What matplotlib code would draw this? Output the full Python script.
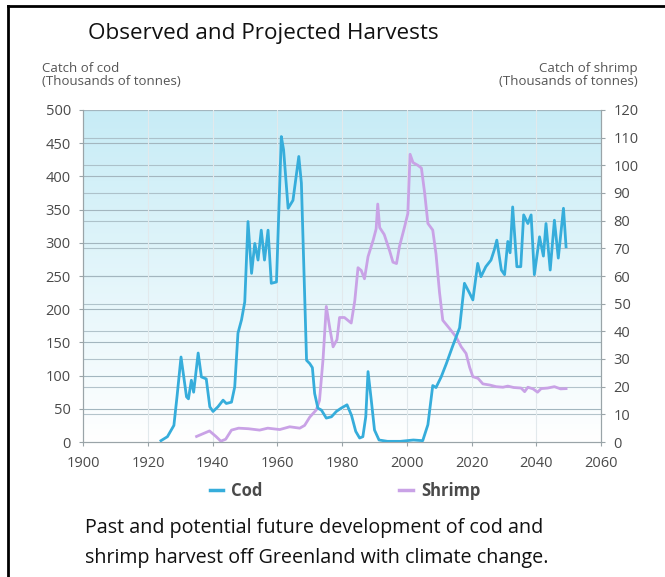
import matplotlib
matplotlib.use("Agg")
import matplotlib.pyplot as plt
import numpy as np
from matplotlib.lines import Line2D

# ---------------- data ----------------
cod_years = [1924, 1926, 1928, 1929, 1930.2, 1931.9, 1932.5, 1933.4, 1934.1, 1935.5, 1936.5,
             1938, 1939.1, 1940.1, 1941.6, 1943.2, 1944.2, 1945.8, 1946.8, 1947.8, 1948.9,
             1949.9, 1950.9, 1952, 1953, 1954, 1955, 1956, 1957.1, 1958.1, 1959.7, 1961.2,
             1961.9, 1963.3, 1964.8, 1966.6, 1967.4, 1969, 1970, 1970.8, 1971.5, 1972.5,
             1973.6, 1975.1, 1976.7, 1978.2, 1979.7, 1981.5, 1982.9, 1984.2, 1985.4, 1986.4,
             1987.3, 1988, 1989, 1990, 1991.4, 1994, 1998, 2002, 2004.9, 2006.5, 2008, 2009,
             2010.6, 2012.2, 2014.2, 2016.3, 2017.8, 2019.4, 2020.4, 2021.9, 2022.9, 2024.4,
             2026, 2027, 2027.8, 2029.2, 2030.2, 2031.2, 2031.9, 2032.7, 2034, 2035.2, 2036.1,
             2037.4, 2038.4, 2039.4, 2041, 2042.2, 2043, 2044.3, 2045.6, 2046.8, 2048.4, 2049.2]
cod_values = [2, 8, 25, 70, 128, 68, 65, 93, 75, 134, 98,
              95, 53, 46, 53, 63, 58, 60, 83, 164, 184,
              211, 332, 254, 299, 274, 319, 274, 319, 239, 241, 460,
              440, 352, 364, 430, 390, 123, 118, 112, 73, 51,
              48, 36, 38, 46, 51, 56, 40, 16, 6, 8,
              38, 106, 63, 18, 3, 1, 1, 3, 2, 26, 85, 82,
              98, 118, 145, 172, 239, 224, 214, 269, 249, 264,
              274, 289, 304, 259, 252, 302, 285, 354, 264, 264, 342,
              329, 342, 252, 309, 280, 329, 259, 334, 277, 352, 294]

shrimp_years = [1935, 1937, 1939, 1941, 1942.5, 1944, 1945.8, 1948, 1951, 1954.5, 1957,
                1960.7, 1963.8, 1966.9, 1968.4, 1970, 1972, 1973, 1974.1, 1975.1, 1976.2,
                1977.2, 1978.4, 1979.2, 1980.7, 1982.8, 1983.9, 1984.9, 1985.9, 1986.9, 1988,
                1989.6, 1990.5, 1991, 1991.6, 1993, 1994.7, 1995.7, 1996.8, 1997.7, 1999.3,
                2000.3, 2001, 2001.9, 2003.4, 2004.5, 2005.5, 2006.5, 2008, 2009, 2010.1,
                2011.1, 2013.2, 2015.2, 2016.8, 2018.3, 2019.4, 2020.4, 2022, 2023.5, 2025.6,
                2027.6, 2029.7, 2031.2, 2033, 2035.3, 2036.4, 2037.4, 2039, 2040.4, 2041.5,
                2043.5, 2045.6, 2047.5, 2049.2]
shrimp_values = [2, 3, 4, 2, 0.3, 1, 4.3, 5, 4.8, 4.3, 5,
                 4.5, 5.5, 5, 6, 9, 11.6, 15, 30, 49, 41,
                 34.4, 37, 45, 45, 43, 51, 63, 62, 59, 67,
                 73, 77, 86, 77.5, 75, 69, 65, 64.5, 70.6, 77.8,
                 82.6, 104, 101, 100, 99, 90, 79, 76.6, 68, 54,
                 44, 41, 38, 34.4, 32, 27, 23.6, 23, 21, 20.6,
                 20, 19.8, 20.2, 19.7, 19.5, 18.2, 19.8, 19.2, 18, 19.3,
                 19.5, 20, 19.2, 19.3]

x_ticks = [1900, 1920, 1940, 1960, 1980, 2000, 2020, 2040, 2060]
cod_ticks = [0, 50, 100, 150, 200, 250, 300, 350, 400, 450, 500]
shrimp_ticks = [0, 10, 20, 30, 40, 50, 60, 70, 80, 90, 100, 110, 120]

title = "Observed and Projected Harvests"
left_label = "Catch of cod\n(Thousands of tonnes)"
right_label = "Catch of shrimp\n(Thousands of tonnes)"
caption = "Past and potential future development of cod and\nshrimp harvest off Greenland with climate change."
series_names = ["Cod", "Shrimp"]

COD_C = "#36addb"
SHR_C = "#c9a2e6"
TXT = "#4a4a4a"
GRID = "#a3b6bf"

plt.rcParams["font.family"] = ["Open Sans", "DejaVu Sans"]

fig = plt.figure(figsize=(6.65, 5.77), dpi=100)
W, H = 665, 577
ax = fig.add_axes([83.3 / W, 1 - 442 / H, (601 - 83.3) / W, (442 - 110) / H])
ax.set_xlim(1900, 2060)
ax.set_ylim(0, 500)
ax2 = ax.twinx()
ax2.set_ylim(0, 120)

# bottom layer (ax2): gradient background, grid, shrimp
grad = np.linspace(0, 1, 256).reshape(-1, 1)
top = np.array([0.78, 0.925, 0.965])
bot = np.array([1.0, 1.0, 1.0])
img = top[None, None, :] * (1 - grad[:, :, None]) + bot[None, None, :] * grad[:, :, None]
ax2.imshow(img, extent=[1900, 2060, 0, 120], aspect="auto", zorder=0, origin="upper")
ax2.set_xlim(1900, 2060)
ax2.set_ylim(0, 120)

for v in cod_ticks[1:]:
    ax2.axhline(v * 120 / 500, color=GRID, lw=0.8, zorder=1)
for v in shrimp_ticks[1:]:
    ax2.axhline(v, color=GRID, lw=0.8, zorder=1, alpha=0.8)
for v in x_ticks[1:-1]:
    ax2.axvline(v, color="#e2e9ec", lw=0.8, zorder=1)

ax2.plot(shrimp_years, shrimp_values, color=SHR_C, lw=2.0, zorder=3, solid_joinstyle="round")

# top layer (ax): cod
ax.set_zorder(ax2.get_zorder() + 1)
ax.patch.set_visible(False)
ax.plot(cod_years, cod_values, color=COD_C, lw=2.0, zorder=4, solid_joinstyle="round")

ax.set_xticks(x_ticks)
ax.set_yticks(cod_ticks)
ax2.set_yticks(shrimp_ticks)
for a in (ax, ax2):
    a.spines["top"].set_visible(False)
    for s in ("left", "right", "bottom"):
        a.spines[s].set_color("#9aa4a8")
        a.spines[s].set_linewidth(0.8)
    a.tick_params(colors="#9aa4a8", labelcolor=TXT, labelsize=10.5, length=3, width=0.8)
ax.tick_params(axis="x", pad=7)
ax.tick_params(axis="y", pad=6)
ax2.tick_params(axis="y", pad=6)

# texts
fig.text(88 / W, 1 - 33 / H, title, fontsize=16.2, color="#111111", va="center", ha="left")
fig.text(42 / W, 1 - 75 / H, left_label, fontsize=9.5, color="#555555", va="center", ha="left",
         linespacing=1.05)
fig.text(638 / W, 1 - 75 / H, right_label, fontsize=9.5, color="#555555", va="center", ha="right",
         multialignment="right", linespacing=1.05)

# legend
handles = [Line2D([], [], color=COD_C, lw=2.5), Line2D([], [], color=SHR_C, lw=2.5)]
leg = fig.legend(handles, series_names, loc="center", bbox_to_anchor=(345 / W, 1 - 491 / H),
                 ncol=2, frameon=False, handlelength=0.8, handletextpad=0.5, columnspacing=8.2,
                 prop={"size": 12, "weight": "bold"})
for t in leg.get_texts():
    t.set_color(TXT)

fig.text(85 / W, 1 - 543 / H, caption, fontsize=14.2, color="#111111", va="center", ha="left",
         linespacing=1.6)

# black frame lines
fig.add_artist(Line2D([8 / W, 8 / W], [0, 1 - 6 / H], color="black", lw=2))
fig.add_artist(Line2D([8 / W, 1], [1 - 6 / H, 1 - 6 / H], color="black", lw=2))

fig.savefig("out.png", dpi=100)
